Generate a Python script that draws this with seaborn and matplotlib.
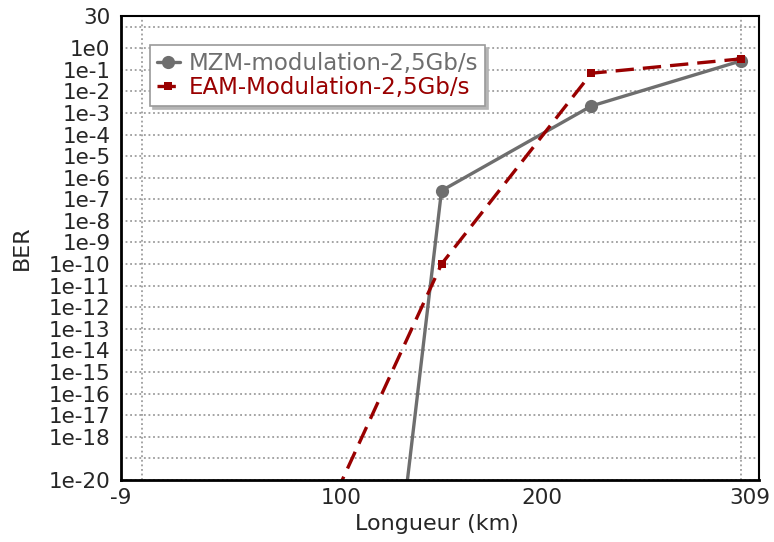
import pandas as pd
import matplotlib.pyplot as plt
import seaborn as sns

# longueur de fibre (km) et BER
longueur_km = [75, 150, 225, 300]
ber_mzm = [3e-66, 2.5e-7, 2.1e-3, 0.26]
ber_eam = [8e-26, 1e-10, 0.069, 0.32]

x_tick_labels = ["-9", "100", "200", "309"]
x_tick_pos = [-10.5, 100, 200, 304.5]   # where the labels sit
x_grid = [0, 100, 200, 300]
y_ticks = [1e-20] + [10.0 ** e for e in range(-18, 1)] + [30]
y_labels = ["1e-20"] + [f"1e{e}" for e in range(-18, 1)] + ["30"]
y_grid_extra = [1e-19, 1e1]

mzm_df = pd.DataFrame({"L": longueur_km, "BER": ber_mzm})
eam_df = pd.DataFrame({"L": longueur_km, "BER": ber_eam})

sns.set_style("white")
plt.rcParams["font.family"] = ["DejaVu Sans"]

fig, ax = plt.subplots(figsize=(7.74, 5.42), dpi=100)
fig.subplots_adjust(left=0.156, right=0.981, top=0.970, bottom=0.1144)

ax.set_yscale("log")

sns.lineplot(data=mzm_df, x="L", y="BER", color="#6e6e6e", marker="o", markersize=9.5,
             markeredgewidth=0, linewidth=2.4, label="MZM-modulation-2,5Gb/s", ax=ax)
sns.lineplot(data=eam_df, x="L", y="BER", color="#990000", marker="s", markersize=6,
             markeredgewidth=0, linewidth=2.4, linestyle=(0, (5.5, 2.7)),
             label="EAM-Modulation-2,5Gb/s", ax=ax)

ax.set_xlim(-9, 309)
ax.set_ylim(1e-20, 30)

ax.set_xticks(x_tick_pos)
ax.set_xticklabels(x_tick_labels)
ax.set_xticks(x_grid, minor=True)
ax.set_yticks(y_ticks)
ax.set_yticklabels(y_labels)
ax.set_yticks(y_grid_extra, minor=True)
ax.yaxis.set_minor_formatter(plt.NullFormatter())

ax.tick_params(axis="x", which="both", length=0, pad=6, labelsize=15.5)
ax.tick_params(axis="y", which="major", length=4, width=1, color="#888888", pad=3.5, labelsize=15.5)
ax.tick_params(axis="y", which="minor", length=4, width=1, color="#888888")

grid_kw = dict(color="#8c8c8c", linestyle=(0, (1.2, 1.8)), linewidth=1.1)
ax.xaxis.grid(False, which="major")
ax.xaxis.grid(True, which="minor", **grid_kw)
ax.yaxis.grid(True, which="both", **grid_kw)

for side in ["left", "bottom"]:
    ax.spines[side].set_linewidth(2)
for side in ["top", "right"]:
    ax.spines[side].set_linewidth(1.5)
for sp in ax.spines.values():
    sp.set_color("black")
    sp.set_visible(True)

ax.set_xlabel("Longueur (km)", fontsize=16)
ax.set_ylabel("BER", fontsize=16)
ax.xaxis.set_label_coords(0.4955, -0.073)
ax.xaxis.label.set_va("top")
ax.yaxis.set_label_coords(-0.139, 0.5)

leg = ax.legend(loc="upper left", bbox_to_anchor=(0.046, 0.9375), borderaxespad=0,
                fontsize=16.5, frameon=True, fancybox=False,
                shadow=dict(color="#b5b5b5", alpha=1),
                handlelength=1.0, handletextpad=0.4, labelcolor="linecolor",
                borderpad=0.3, labelspacing=0.05)
leg.get_frame().set_edgecolor("#9a9a9a")
leg.get_frame().set_linewidth(1.2)
leg.get_frame().set_alpha(1)

plt.savefig("out.png", dpi=100)
